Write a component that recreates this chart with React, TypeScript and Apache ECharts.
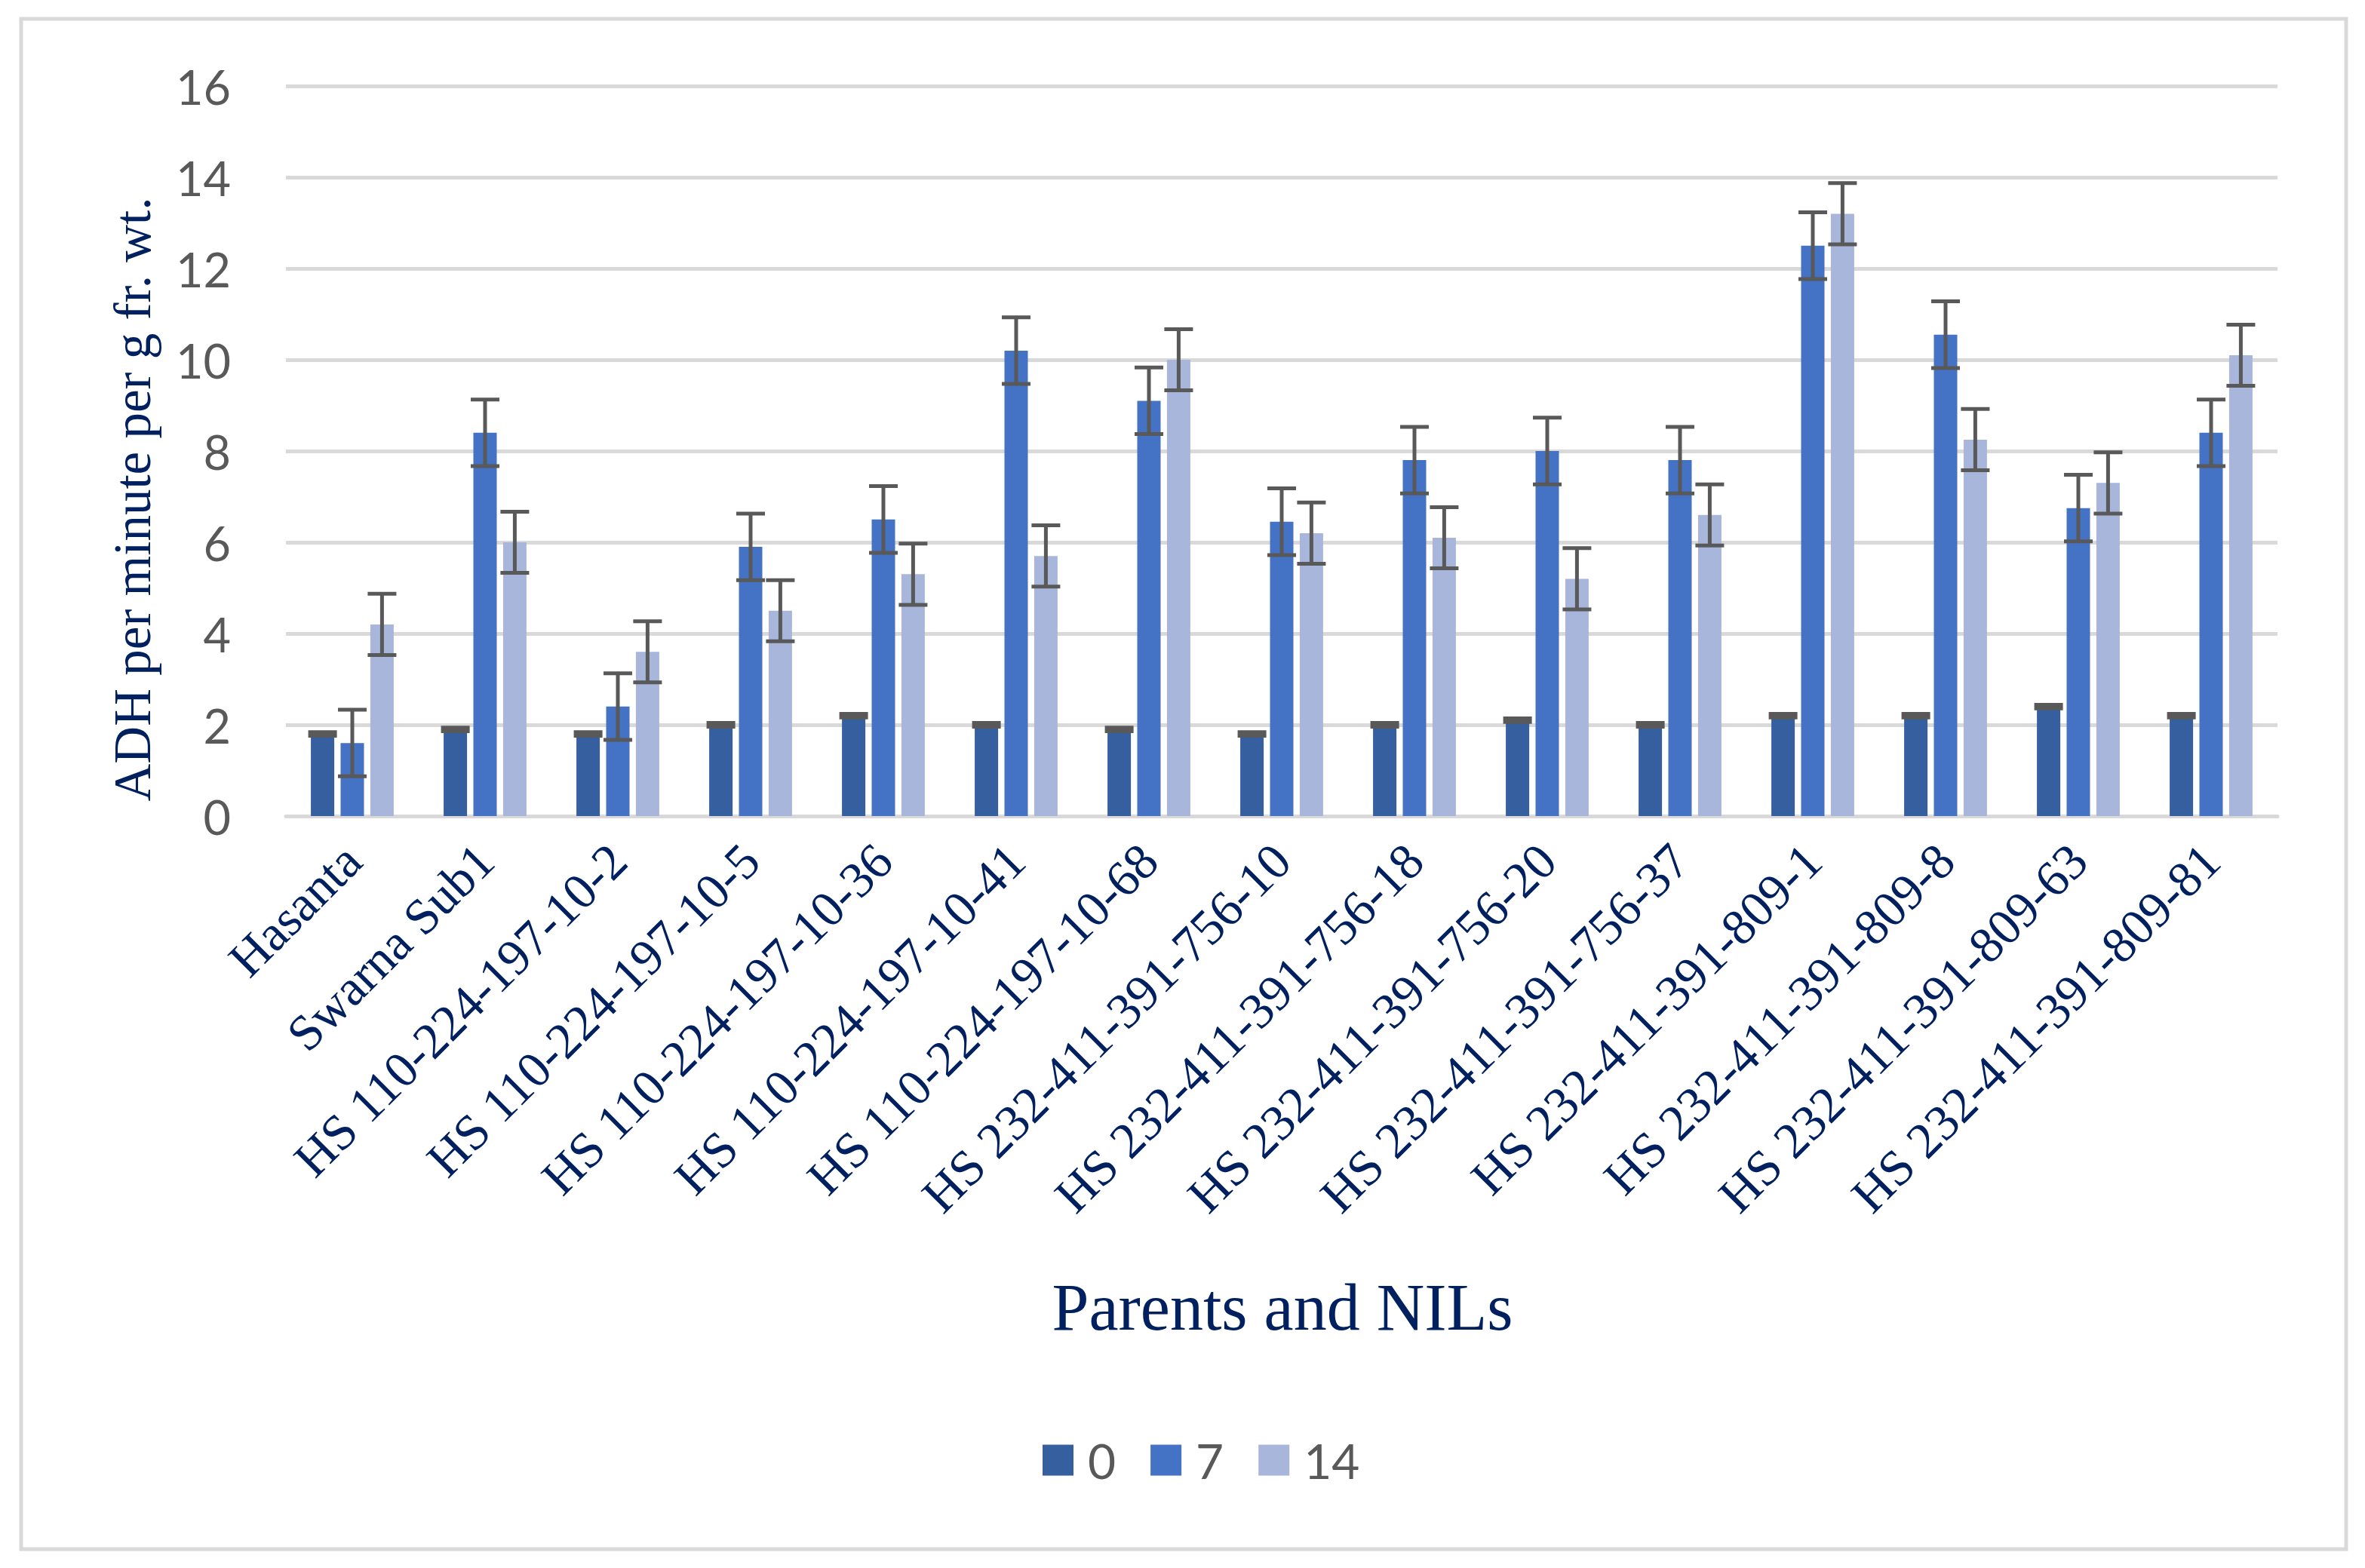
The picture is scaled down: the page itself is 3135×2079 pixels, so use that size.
import React, { useEffect, useRef } from "react";
import * as echarts from "echarts";

const categories = [
  "Hasanta",
  "Swarna Sub1",
  "HS 110-224-197-10-2",
  "HS 110-224-197-10-5",
  "HS 110-224-197-10-36",
  "HS 110-224-197-10-41",
  "HS 110-224-197-10-68",
  "HS 232-411-391-756-10",
  "HS 232-411-391-756-18",
  "HS 232-411-391-756-20",
  "HS 232-411-391-756-37",
  "HS 232-411-391-809-1",
  "HS 232-411-391-809-8",
  "HS 232-411-391-809-63",
  "HS 232-411-391-809-81",
];

const seriesNames = ["0", "7", "14"];
const day0 = [1.8, 1.9, 1.8, 2.0, 2.2, 2.0, 1.9, 1.8, 2.0, 2.1, 2.0, 2.2, 2.2, 2.4, 2.2];
const day7 = [1.6, 8.4, 2.4, 5.9, 6.5, 10.2, 9.1, 6.45, 7.8, 8.0, 7.8, 12.5, 10.55, 6.75, 8.4];
const day14 = [4.2, 6.0, 3.6, 4.5, 5.3, 5.7, 10.0, 6.2, 6.1, 5.2, 6.6, 13.2, 8.25, 7.3, 10.1];
const err0 = [0.04, 0.04, 0.04, 0.04, 0.04, 0.04, 0.04, 0.04, 0.04, 0.04, 0.04, 0.04, 0.04, 0.04, 0.04];
const err7 = [0.73, 0.73, 0.73, 0.73, 0.73, 0.73, 0.73, 0.73, 0.73, 0.73, 0.73, 0.73, 0.73, 0.73, 0.73];
const err14 = [0.67, 0.67, 0.67, 0.67, 0.67, 0.67, 0.67, 0.67, 0.67, 0.67, 0.67, 0.67, 0.67, 0.67, 0.67];
const yTicks = { min: 0, max: 16, interval: 2 };

const W = 3135;
const H = 2079;
const colors = ["#365F9F", "#4472C4", "#A8B6DB"];
const BAR_W = 31;
const BAR_GAP = 8.4;
const CAP_W = 38;
const ERR_COLOR = "#595959";

export default function App() {
  const ref = useRef<HTMLDivElement>(null);

  useEffect(() => {
    document.body.style.margin = "0";
    if (!ref.current) return;
    const chart = echarts.init(ref.current, undefined, { renderer: "svg" });

    const values = [day0, day7, day14];
    const errs = [err0, err7, err14];

    const barSeries = values.map((vals, s) => ({
      name: seriesNames[s],
      type: "bar",
      data: vals,
      barWidth: BAR_W,
      barGap: `${(BAR_GAP / BAR_W) * 100}%`,
      itemStyle: { color: colors[s] },
      z: 2,
    }));

    const errSeries = values.map((vals, s) => {
      const offset = (s - 1) * (BAR_W + BAR_GAP);
      return {
        name: "err" + seriesNames[s],
        type: "custom",
        z: 5,
        encode: { x: 0, y: [1, 2] },
        data: vals.map((v, i) => [i, v - errs[s][i], v + errs[s][i]]),
        renderItem: (params: any, api: any) => {
          const ci = api.value(0);
          const top = api.coord([ci, api.value(2)]);
          const bot = api.coord([ci, api.value(1)]);
          const x = top[0] + offset;
          const st = { stroke: ERR_COLOR, lineWidth: 5 };
          const hw = CAP_W / 2;
          return {
            type: "group",
            children: [
              { type: "line", shape: { x1: x, y1: top[1], x2: x, y2: bot[1] }, style: st },
              { type: "line", shape: { x1: x - hw, y1: top[1], x2: x + hw, y2: top[1] }, style: st },
              { type: "line", shape: { x1: x - hw, y1: bot[1], x2: x + hw, y2: bot[1] }, style: st },
            ],
          };
        },
      };
    });

    chart.setOption({
      animation: false,
      backgroundColor: "#ffffff",
      grid: { left: 379, right: W - 3019, top: 114, bottom: H - 1082, containLabel: false },
      legend: {
        data: seriesNames,
        left: 1377,
        top: 1899,
        itemWidth: 41,
        itemHeight: 41,
        itemGap: 46,
        icon: "rect",
        textStyle: { fontFamily: "Lato", fontSize: 64, color: "#595959", padding: [0, 0, 0, 14] },
      },
      xAxis: {
        type: "category",
        data: categories,
        axisLine: { lineStyle: { color: "#D9D9D9", width: 5 } },
        axisTick: { show: false },
        axisLabel: {
          rotate: 45,
          interval: 0,
          margin: 48,
          fontFamily: "Liberation Serif",
          fontSize: 67,
          color: "#002060",
        },
      },
      yAxis: {
        type: "value",
        min: yTicks.min,
        max: yTicks.max,
        interval: yTicks.interval,
        axisLine: { show: false },
        axisTick: { show: false },
        splitLine: { lineStyle: { color: "#D9D9D9", width: 5 } },
        axisLabel: { margin: 73, fontFamily: "Lato", fontSize: 63, color: "#595959" },
      },
      graphic: [
        {
          type: "rect",
          shape: { x: 28, y: 25, width: 3082, height: 2029 },
          style: { fill: "none", stroke: "#D9D9D9", lineWidth: 5 },
          z: -1,
        },
        {
          type: "text",
          x: 176,
          y: 662,
          rotation: Math.PI / 2,
          style: {
            text: "ADH per minute per g fr. wt.",
            fontFamily: "Liberation Serif",
            fontSize: 69,
            fill: "#002060",
            textAlign: "center",
            textVerticalAlign: "middle",
          },
        },
        {
          type: "text",
          x: 1700,
          y: 1733,
          style: {
            text: "Parents and NILs",
            fontFamily: "Liberation Serif",
            fontSize: 88,
            fill: "#002060",
            textAlign: "center",
            textVerticalAlign: "middle",
          },
        },
      ],
      series: [...barSeries, ...errSeries],
    });

    return () => chart.dispose();
  }, []);

  return <div ref={ref} style={{ width: W, height: H }} />;
}
